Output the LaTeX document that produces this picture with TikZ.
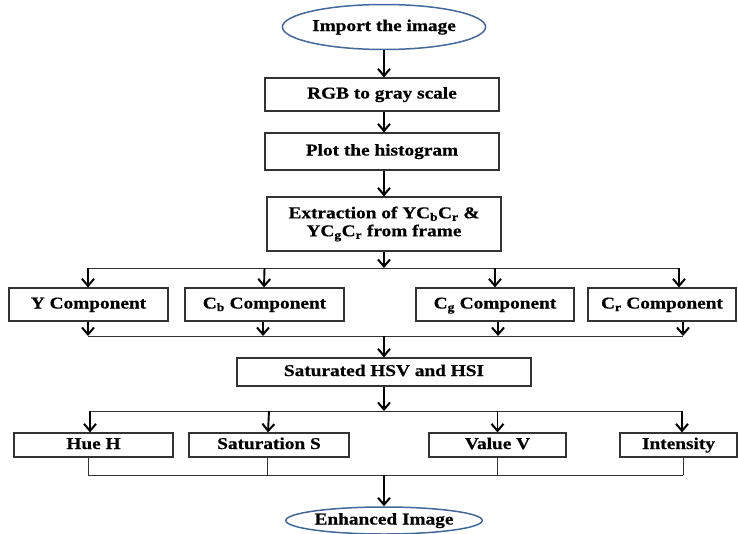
\documentclass[tikz,border=0pt]{standalone}
\usepackage{fontspec}
\setmainfont{Liberation Serif}[FakeStretch=1.17,FakeBold=0.6]
\usetikzlibrary{shapes.geometric,arrows.meta}
\definecolor{ellblue}{HTML}{41699D}
\definecolor{boxgray}{HTML}{333333}
\tikzset{
  box/.style={draw=boxgray,line width=1.2pt,rectangle,inner sep=0pt,align=center,font=\fontsize{16.5}{18}\selectfont\bfseries},
  one/.style={text height=11.5pt,text depth=3.5pt},
  term/.style={draw=ellblue,line width=1.5pt,ellipse,inner sep=0pt,text height=11.5pt,text depth=3.5pt,font=\fontsize{16.5}{18}\selectfont\bfseries},
  arr/.style={line width=1.9pt,-{Straight Barb[length=7pt,width=12pt,line width=2pt]}},
  hl/.style={line width=1pt,draw=boxgray},
}
\begin{document}
\begin{tikzpicture}[x=1pt,y=-1pt]
\useasboundingbox (0,0) rectangle (738,533);
\node[term,minimum width=190pt,minimum height=45pt] (imp) at (384,27) {Import the image};
\node[box,one,minimum width=234pt,minimum height=33pt] (rgb) at (382,94.5) {RGB to gray scale};
\node[box,one,minimum width=234pt,minimum height=37pt] (hist) at (382,151.5) {Plot the histogram};
\node[box,minimum width=234pt,minimum height=54pt] (extr) at (384,224) {Extraction of YC\textsubscript{b}C\textsubscript{r} \&\\YC\textsubscript{g}C\textsubscript{r} from frame};
\node[box,one,minimum width=159pt,minimum height=33pt] (Y) at (88.5,304.5) {Y Component};
\node[box,one,minimum width=159pt,minimum height=33pt] (Cb) at (264.5,304.5) {C\textsubscript{b} Component};
\node[box,one,minimum width=158pt,minimum height=33pt] (Cg) at (495,304.5) {C\textsubscript{g} Component};
\node[box,one,minimum width=148pt,minimum height=33pt] (Cr) at (662,304.5) {C\textsubscript{r} Component};
\node[box,one,minimum width=294pt,minimum height=28pt] (sat) at (384,372) {Saturated HSV and HSI};
\node[box,one,minimum width=159pt,minimum height=24pt] (hue) at (93.5,445) {Hue H};
\node[box,one,minimum width=160pt,minimum height=24pt] (satS) at (269,445) {Saturation S};
\node[box,one,minimum width=137pt,minimum height=24pt] (val) at (497.5,445) {Value V};
\node[box,one,minimum width=117pt,minimum height=24pt] (int) at (678.5,445) {Intensity};
\node[term,minimum width=192pt,minimum height=27pt] (enh) at (384,520.5) {Enhanced Image};
% coordinates
\coordinate (j1) at (384,268);
\coordinate (j1L) at (88,268);
\coordinate (j1R) at (679,268);
\coordinate (j2) at (384,336);
\coordinate (j2L) at (88,336);
\coordinate (j2R) at (683,336);
\coordinate (j3) at (384,411);
\coordinate (j3L) at (90,411);
\coordinate (j3R) at (682,411);
\coordinate (j4) at (384,475);
\coordinate (j4L) at (88,475);
\coordinate (j4R) at (683,475);
% top chain
\draw[arr] (imp.south) -- (imp.south |- rgb.north);
\draw[arr] (rgb.south -| imp.south) -- (hist.north -| imp.south);
\draw[arr] (hist.south -| imp.south) -- (extr.north -| imp.south);
% first branch
\draw[arr] (extr.south) -- (j1);
\draw[hl] (j1L) -- (j1R);
\draw[arr] (j1L) -- (j1L |- Y.north);
\draw[arr] (Cb.north |- j1) -- ([xshift=-0.5pt]Cb.north);
\draw[arr] (Cg.north |- j1) -- (Cg.north);
\draw[arr] (j1R) -- (j1R |- Cr.north);
% first join
\draw[arr] (Y.south -| j2L) -- (j2L);
\draw[arr] ([xshift=-1.5pt]Cb.south) -- ([xshift=-1.5pt]Cb.south |- j2);
\draw[arr] ([xshift=3pt]Cg.south) -- ([xshift=3pt]Cg.south |- j2);
\draw[arr] (Cr.south -| j2R) -- (j2R);
\draw[hl] (j2L) -- (j2R);
\draw[arr] (j2) -- (sat.north);
% second branch
\draw[arr] (sat.south) -- (j3);
\draw[hl] (j3L) -- (j3R);
\draw[arr] (j3L) -- (j3L |- hue.north);
\draw[arr] (satS.north |- j3) -- ([xshift=-1pt]satS.north);
\draw[arr] (val.north |- j3) -- (val.north);
\draw[arr] (j3R) -- (j3R |- int.north);
% second join
\draw[hl] (hue.south -| j4L) -- (j4L);
\draw[hl] ([xshift=-2pt]satS.south) -- ([xshift=-2pt]satS.south |- j4);
\draw[hl] (val.south) -- (val.south |- j4);
\draw[hl] (int.south -| j4R) -- (j4R);
\draw[hl] (j4L) -- (j4R);
\draw[arr] (j4) -- (enh.north);
\end{tikzpicture}
\end{document}
